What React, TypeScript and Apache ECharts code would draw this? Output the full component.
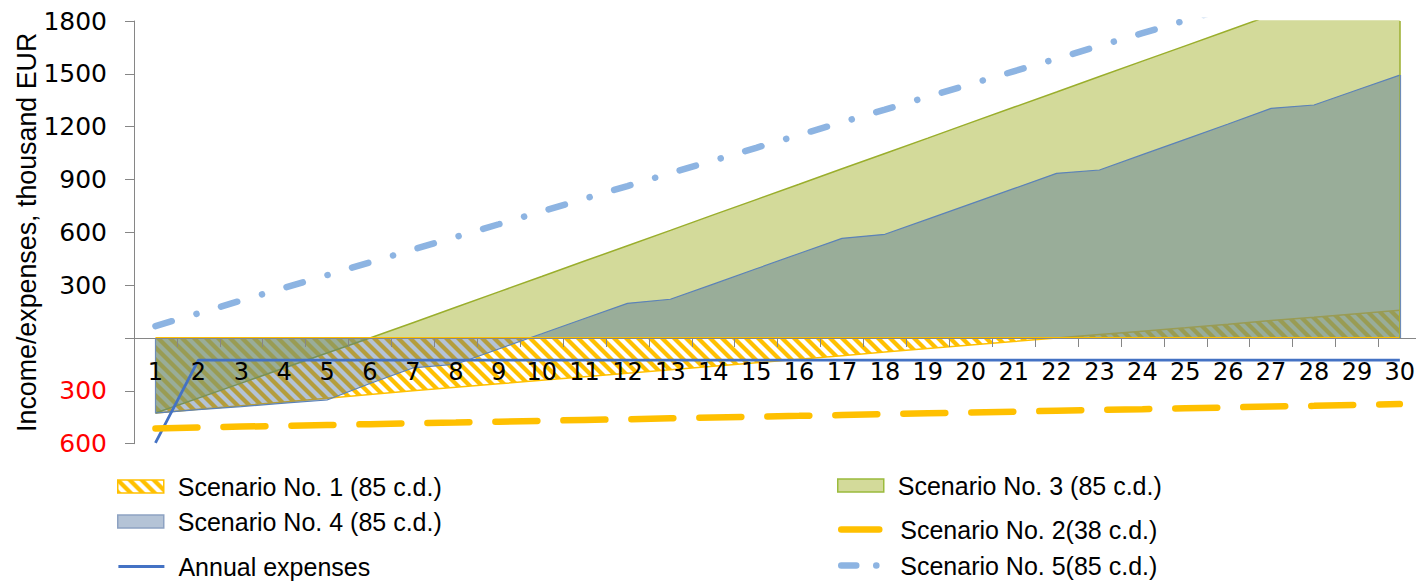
import React, { useEffect, useRef } from 'react';
import * as echarts from 'echarts';

const FONT = "'Liberation Sans', Arial, sans-serif";
const AXIS_FONT = "'DejaVu Sans', 'Liberation Sans', sans-serif";

const categories = ['1', '2', '3', '4', '5', '6', '7', '8', '9', '10', '11', '12', '13', '14', '15', '16', '17', '18', '19', '20', '21', '22', '23', '24', '25', '26', '27', '28', '29', '30'];

// Scenario No. 1 (85 c.d.) - hatched area
const scenario1 = [-426, -405, -384, -363, -342, -321, -300, -280, -260, -240, -220, -200, -180, -160, -140, -120, -100, -80, -60, -40, -20, 0, 20, 39, 58, 78, 99, 118, 138, 158];
// Scenario No. 3 (85 c.d.) - olive area
const scenario3 = [-426, -341, -256, -170, -85, 0, 87, 175, 262, 349, 437, 524, 611, 699, 786, 873, 961, 1048, 1135, 1223, 1310, 1397, 1485, 1572, 1659, 1746, 1834, 1921, 2008, 2096];
// Scenario No. 4 (85 c.d.) - blue-grey area
const scenario4 = [-426, -407, -389, -370, -352, -258, -170, -149, -62, 24, 111, 197, 220, 306, 393, 480, 566, 589, 675, 762, 848, 935, 954, 1041, 1128, 1215, 1304, 1323, 1408, 1493];
// Annual expenses
const annualExpenses = [-595, -125, -125, -125, -125, -125, -125, -125, -125, -125, -125, -125, -125, -125, -125, -125, -125, -125, -125, -125, -125, -125, -125, -125, -125, -125, -125, -125, -125, -125];
// Scenario No. 2(38 c.d.)
const scenario2 = [-513, -508, -503, -499, -494, -489, -484, -480, -475, -470, -465, -461, -456, -451, -446, -442, -437, -432, -427, -423, -418, -413, -408, -404, -399, -394, -389, -385, -380, -375];
// Scenario No. 5(85 c.d.)
const scenario5 = [68, 140, 213, 285, 357, 430, 502, 574, 646, 719, 791, 863, 936, 1008, 1080, 1153, 1225, 1297, 1370, 1442, 1514, 1586, 1659, 1731, 1803, 1876, 1948, 2020, 2093, 2165];

const names = {
  s1: 'Scenario No. 1 (85 c.d.)',
  s3: 'Scenario No. 3 (85 c.d.)',
  s4: 'Scenario No. 4 (85 c.d.)',
  s2: 'Scenario No. 2(38 c.d.)',
  exp: 'Annual expenses',
  s5: 'Scenario No. 5(85 c.d.)',
};

function makeHatch(): HTMLCanvasElement {
  const c = document.createElement('canvas');
  c.width = 12;
  c.height = 12;
  const ctx = c.getContext('2d')!;
  ctx.strokeStyle = '#ffc000';
  ctx.lineWidth = 4.2;
  for (let k = -1; k <= 1; k++) {
    ctx.beginPath();
    ctx.moveTo(12 * k - 2, -2);
    ctx.lineTo(12 * k + 14, 14);
    ctx.stroke();
  }
  return c;
}

export default function App() {
  const ref = useRef<HTMLDivElement>(null);

  useEffect(() => {
    if (!ref.current) return;
    const chart = echarts.init(ref.current, undefined, { renderer: 'svg' });
    const hatch = { image: makeHatch(), repeat: 'repeat', imageWidth: 12, imageHeight: 12 };

    const legendBase = (left: number, top: number, name: string, extra: any = {}, itemWidth = 46, pad = 9) => ({
      show: true,
      left,
      top,
      padding: 0,
      itemWidth,
      itemHeight: 13,
      selectedMode: false,
      textStyle: { fontSize: 25, fontFamily: FONT, color: '#000', padding: [0, 0, 0, pad] },
      data: [{ name, ...extra }],
    });

    const mlBase = {
      silent: true,
      symbol: ['none', 'none'],
      label: { show: false },
      emphasis: { disabled: true },
      animation: false,
    };

    const option: any = {
      animation: false,
      grid: { left: 134, right: -5.3, top: 21, bottom: 140.3, containLabel: false, outerBoundsMode: 'none' },
      legend: [
        legendBase(117, 474, names.s1, { icon: 'rect', itemStyle: { color: hatch, borderColor: '#ffc000', borderWidth: 1.5 } }),
        legendBase(117, 509, names.s4, { icon: 'rect', itemStyle: { color: '#b4c3d6', borderColor: '#8da2c2', borderWidth: 1.5 } }),
        legendBase(117, 554, names.exp, { itemStyle: { opacity: 0 }, lineStyle: { color: '#4472c4', width: 2.8, type: 'solid' } }),
        legendBase(837, 473, names.s3, { icon: 'rect', itemStyle: { color: '#d3da9a', borderColor: '#9bbb3c', borderWidth: 1.5 } }),
        legendBase(838, 517, names.s2, { itemStyle: { opacity: 0 }, lineStyle: { color: '#ffc000', width: 6.5, type: 'solid', cap: 'round' } }, 38, 16),
        legendBase(838, 553, names.s5, { itemStyle: { opacity: 0 }, lineStyle: { color: '#8db4e2', width: 6.5, type: [15, 20, 0.1, 30], cap: 'round' } }, 40, 14),
      ],
      xAxis: {
        type: 'category',
        data: categories,
        boundaryGap: true,
        z: 10,
        offset: -105.7,
        axisLine: { show: true, onZero: false, lineStyle: { color: '#868686', width: 1 } },
        axisTick: { show: true, length: 9, lineStyle: { color: '#868686' } },
        axisLabel: { interval: 0, fontSize: 24, fontFamily: AXIS_FONT, color: '#000', margin: 22 },
        splitLine: { show: false },
      },
      yAxis: {
        type: 'value',
        min: -600,
        max: 1800,
        interval: 300,
        name: 'Income/expenses, thousand EUR',
        nameLocation: 'middle',
        nameGap: 94,
        nameMoveOverlap: false,
        nameTextStyle: { fontSize: 26.8, fontFamily: FONT, color: '#000' },
        axisLine: { show: true, lineStyle: { color: '#868686', width: 1 } },
        axisTick: { show: true, length: 9, lineStyle: { color: '#868686' } },
        splitLine: { show: false },
        axisLabel: {
          fontSize: 25,
          fontFamily: AXIS_FONT,
          color: '#000',
          margin: 27,
          formatter: (v: number) => (v === 0 ? '' : v < 0 ? `{neg|${-v}}` : String(v)),
          rich: { neg: { color: '#ff0000', fontSize: 25, fontFamily: AXIS_FONT } },
        },
      },
      series: [
        {
          name: names.s1,
          type: 'line',
          data: scenario1,
          symbol: 'none',
          z: 2,
          lineStyle: { color: '#ffc000', width: 1.5 },
          itemStyle: { color: '#ffc000' },
          areaStyle: { color: hatch, opacity: 1 },
          markLine: {
            ...mlBase,
            lineStyle: { color: '#ffc000', width: 2, type: 'solid' },
            data: [
              [{ coord: [0, 0] }, { coord: [29, 0] }],
              [{ coord: [29, 0] }, { coord: [29, scenario1[29]] }],
            ],
          },
        },
        {
          name: names.s3,
          type: 'line',
          data: scenario3,
          symbol: 'none',
          z: 3,
          lineStyle: { color: '#9aae2c', width: 1.5 },
          itemStyle: { color: '#9bbb3c' },
          areaStyle: { color: 'rgb(175,188,71)', opacity: 0.55 },
          markLine: {
            ...mlBase,
            lineStyle: { color: '#9aae2c', width: 1.5, type: 'solid' },
            data: [[{ coord: [29, 0] }, { coord: [29, 1800] }]],
          },
        },
        {
          name: names.s4,
          type: 'line',
          data: scenario4,
          symbol: 'none',
          z: 4,
          lineStyle: { color: '#5b82b8', width: 1.2 },
          itemStyle: { color: '#8da2c2' },
          areaStyle: { color: 'rgb(67,105,152)', opacity: 0.4 },
          markLine: {
            ...mlBase,
            lineStyle: { color: '#6d8cb8', width: 1.2, type: 'solid' },
            data: [
              [{ coord: [0, 0] }, { coord: [0, scenario4[0]] }],
              [{ coord: [29, 0] }, { coord: [29, scenario4[29]] }],
            ],
          },
        },
        {
          name: names.exp,
          type: 'line',
          data: annualExpenses,
          symbol: 'none',
          z: 5,
          lineStyle: { color: '#4472c4', width: 2.8 },
          itemStyle: { color: '#4472c4' },
        },
        {
          name: names.s2,
          type: 'line',
          data: scenario2,
          symbol: 'none',
          z: 6,
          lineStyle: { color: '#ffc000', width: 6.5, type: [42, 26], cap: 'round' },
          itemStyle: { color: '#ffc000' },
        },
        {
          name: names.s5,
          type: 'line',
          data: scenario5,
          symbol: 'none',
          z: 6,
          lineStyle: { color: '#8db4e2', width: 6.5, type: [17, 25.75, 0.1, 25.5], cap: 'round' },
          itemStyle: { color: '#8db4e2' },
        },
      ],
    };

    chart.setOption(option);
    return () => chart.dispose();
  }, []);

  return (
    <div
      ref={ref}
      style={{ position: 'fixed', left: 0, top: 0, width: 1416, height: 584, background: '#fff' }}
    />
  );
}
